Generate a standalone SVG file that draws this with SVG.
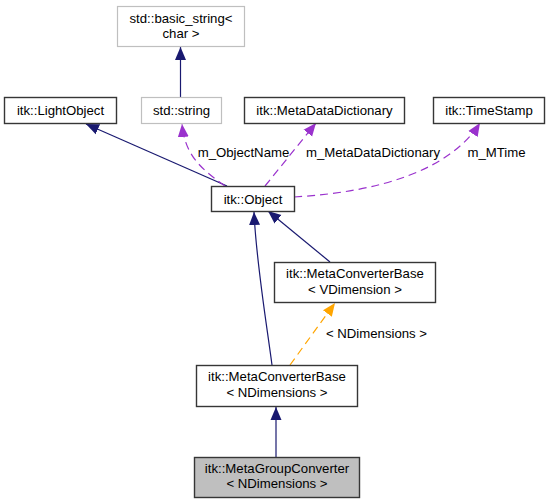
<svg xmlns="http://www.w3.org/2000/svg" width="549" height="503" viewBox="0 0 549 503">
<style>
text{font-family:"Liberation Sans",Arial,sans-serif;font-size:13.2px;fill:#000;text-anchor:middle}
.n{fill:#fff;stroke:#363636;stroke-width:1.4}
.g{fill:#fff;stroke:#bfbfbf;stroke-width:1.2}
.cur{fill:#bfbfbf;stroke:#363636;stroke-width:1.4}
.e{fill:none;stroke-width:1.2}
.nav{stroke:#191970;marker-end:url(#aN)}
.pur{stroke:#9a32cd;stroke-dasharray:8,5;marker-end:url(#aP)}
.org{stroke:#ffa500;stroke-dasharray:8,5;marker-end:url(#aO)}
</style>
<defs>
<marker id="aN" markerUnits="userSpaceOnUse" markerWidth="14" markerHeight="12" refX="13" refY="6" orient="auto" viewBox="0 0 14 12"><path d="M0,0.5 L13,6 L0,11.5 z" fill="#191970"/></marker>
<marker id="aP" markerUnits="userSpaceOnUse" markerWidth="14" markerHeight="12" refX="13" refY="6" orient="auto" viewBox="0 0 14 12"><path d="M0,0.5 L13,6 L0,11.5 z" fill="#9a32cd"/></marker>
<marker id="aO" markerUnits="userSpaceOnUse" markerWidth="14" markerHeight="12" refX="13" refY="6" orient="auto" viewBox="0 0 14 12"><path d="M0,0.5 L13,6 L0,11.5 z" fill="#ffa500"/></marker>
</defs>
<g id="edges">
<path class="e nav" d="M180.5,97 L180.5,47"/>
<path class="e nav" d="M227,186 L86,124"/>
<path class="e pur" d="M225,186 C200,168 185,155 182,124"/>
<path class="e pur" d="M265,186 L316,123"/>
<path class="e pur" d="M294,197 C380,192 450,170 480,123"/>
<path class="e nav" d="M272,365 C266,320 256,260 254,212"/>
<path class="e nav" d="M330,262 L268,211"/>
<path class="e org" d="M290,365 L335,303"/>
<path class="e nav" d="M276,457 L276,407"/>
<text x="243.5" y="157">m_ObjectName</text>
<text x="373" y="157">m_MetaDataDictionary</text>
<text x="496.5" y="157">m_MTime</text>
<text x="376.5" y="337.5">&lt; NDimensions &gt;</text>
</g>
<g id="basic_string"><rect class="g" x="117.5" y="6.5" width="127" height="40"/><text x="181" y="23">std::basic_string&lt;</text><text x="181" y="38">char &gt;</text></g>
<g id="LightObject"><rect class="n" x="4.5" y="97.5" width="112" height="26"/><text x="60.5" y="115">itk::LightObject</text></g>
<g id="string"><rect class="g" x="141.5" y="97.5" width="80" height="26"/><text x="181.5" y="115">std::string</text></g>
<g id="MetaDataDictionary"><rect class="n" x="244.5" y="97.5" width="160" height="26"/><text x="324.5" y="115">itk::MetaDataDictionary</text></g>
<g id="TimeStamp"><rect class="n" x="433.5" y="97.5" width="111" height="26"/><text x="489" y="115">itk::TimeStamp</text></g>
<g id="Object"><rect class="n" x="211.5" y="186.5" width="83" height="25"/><text x="253" y="203.5">itk::Object</text></g>
<g id="MetaConverterBaseV"><rect class="n" x="274.5" y="262.5" width="161" height="40"/><text x="355" y="278">itk::MetaConverterBase</text><text x="355" y="294">&lt; VDimension &gt;</text></g>
<g id="MetaConverterBaseN"><rect class="n" x="196.5" y="365.5" width="161" height="41"/><text x="277" y="381">itk::MetaConverterBase</text><text x="277" y="397">&lt; NDimensions &gt;</text></g>
<g id="MetaGroupConverter"><rect class="cur" x="194.5" y="457.5" width="165" height="40"/><text x="277" y="473">itk::MetaGroupConverter</text><text x="277" y="488">&lt; NDimensions &gt;</text></g>
</svg>
